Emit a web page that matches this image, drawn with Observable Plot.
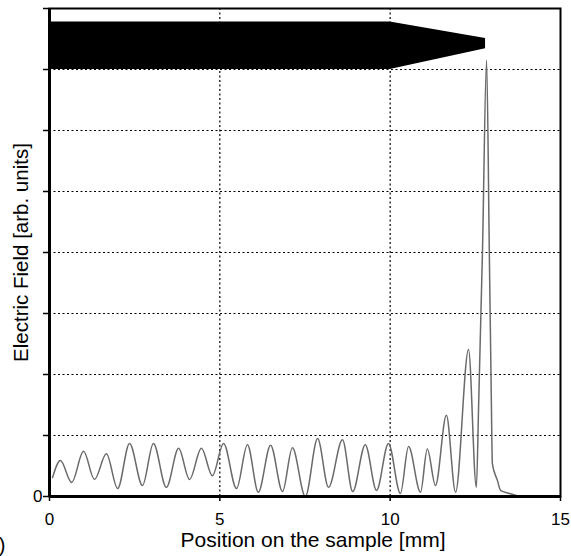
<!DOCTYPE html>
<html>
<head>
<meta charset="utf-8">
<script src="https://cdn.jsdelivr.net/npm/d3@7"></script>
<script src="https://cdn.jsdelivr.net/npm/@observablehq/plot@0.6"></script>
<style>
  html, body { margin: 0; padding: 0; background: #fff; }
  #chart svg { display: block; font-family: "Liberation Sans", Arial, sans-serif; }
</style>
</head>
<body>
<div id="chart"></div>
<script>
// Measured field profile along the sample (x in mm, field in arb. units)
const positionMM = [0.09, 0.32, 0.65, 1.0, 1.32, 1.67, 2.0, 2.35, 2.73, 3.05, 3.43, 3.79, 4.11, 4.46, 4.78, 5.11, 5.49, 5.81, 6.13, 6.49, 6.84, 7.13, 7.51, 7.87, 8.19, 8.6, 8.9, 9.27, 9.6, 9.95, 10.3, 10.54, 10.89, 11.09, 11.33, 11.65, 11.92, 12.3, 12.53, 12.6, 12.71, 12.83, 12.91, 12.97, 13.0, 13.15, 13.24, 13.5, 13.8];
const fieldValue = [0.31, 0.59, 0.23, 0.74, 0.28, 0.70, 0.13, 0.87, 0.18, 0.87, 0.15, 0.79, 0.28, 0.79, 0.34, 0.87, 0.13, 0.85, 0.07, 0.84, 0.08, 0.80, 0.0, 0.95, 0.15, 0.93, 0.08, 0.85, 0.10, 0.87, 0.05, 0.82, 0.07, 0.78, 0.18, 1.33, 0.07, 2.41, 0.15, 1.57, 4.03, 7.15, 4.03, 1.57, 0.54, 0.26, 0.10, 0.05, 0.0];

// Tip silhouette drawn at the top of the plot
const tipX = [0, 10, 12.8];
const tipLow = [7.0, 7.0, 7.34];
const tipHigh = [7.78, 7.78, 7.51];

// Axis ticks
const xTicks = [0, 5, 10, 15];
const yTicks = [0, 1, 2, 3, 4, 5, 6, 7, 8];
const yGrid = [1, 2, 3, 4, 5, 6, 7];
const xGrid = [5, 10];

const xLabel = "Position on the sample [mm]";
const yLabel = "Electric Field [arb. units]";
const panelTag = ")";

const signal = positionMM.map((x, i) => ({x, y: fieldValue[i]}));
const tip = tipX.map((x, i) => ({x, y1: tipLow[i], y2: tipHigh[i]}));

const chart = Plot.plot({
  width: 571,
  height: 556,
  marginLeft: 49,
  marginRight: 11,
  marginTop: 8,
  marginBottom: 60,
  style: {fontFamily: '"Liberation Sans", Arial, sans-serif', fontSize: "17px", color: "#000", background: "#fff", overflow: "visible"},
  x: {domain: [0, 15]},
  y: {domain: [0, 8]},
  marks: [
    Plot.ruleY(yGrid, {stroke: "#000", strokeWidth: 1.2, strokeDasharray: "2,2.5"}),
    Plot.ruleX(xGrid, {stroke: "#000", strokeWidth: 1.2, strokeDasharray: "2,2.5", y1: 0, y2: 8}),
    Plot.areaY(tip, {x: "x", y1: "y1", y2: "y2", fill: "#000"}),
    Plot.line(signal, {x: "x", y: "y", stroke: "#6a6a6a", strokeWidth: 1.5, curve: "monotone-x"}),
    Plot.axisX({ticks: xTicks, tickSize: 5, tickPadding: 11, tickFormat: d => String(d), label: null, fontSize: 17, stroke: "#000", strokeWidth: 1.5}),
    Plot.axisY({ticks: yTicks, tickSize: 6, tickPadding: 1, tickFormat: d => d === 0 ? "0" : "", label: null, fontSize: 17, stroke: "#000", strokeWidth: 1.5}),
    Plot.frame({stroke: "#000", strokeWidth: 2}),
    Plot.ruleX([0], {stroke: "#000", strokeWidth: 3, y1: 0, y2: 8}),
    Plot.ruleY([0], {stroke: "#000", strokeWidth: 3, x1: 0, x2: 15}),
    Plot.text([xLabel], {frameAnchor: "bottom", dx: 8, dy: 44, text: d => d, fontSize: 21, lineAnchor: "middle", textAnchor: "middle", fill: "#000"}),
    Plot.text([yLabel], {frameAnchor: "left", dx: -28, text: d => d, fontSize: 20.5, rotate: -90, lineAnchor: "middle", textAnchor: "middle", fill: "#000"}),
    Plot.text([panelTag], {frameAnchor: "bottom-left", dx: -44, dy: 49, text: d => d, fontSize: 20, textAnchor: "end", lineAnchor: "middle", fill: "#000"})
  ]
});
document.getElementById("chart").appendChild(chart);
</script>
</body>
</html>
